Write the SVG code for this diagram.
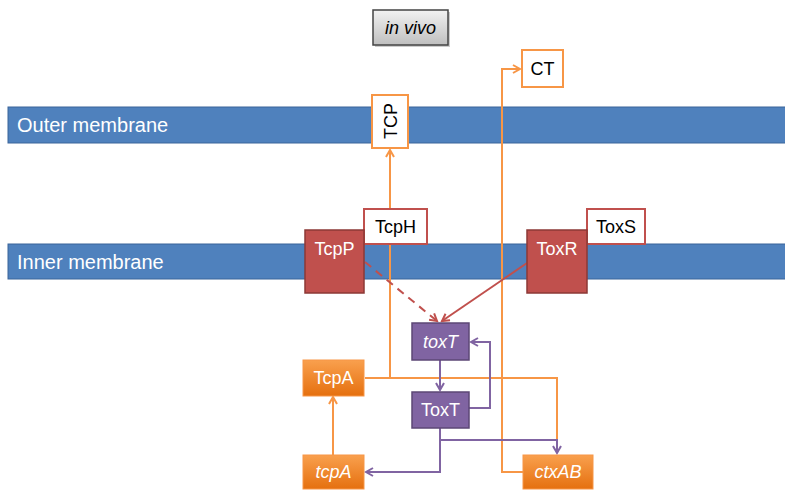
<svg xmlns="http://www.w3.org/2000/svg" width="785" height="490" viewBox="0 0 785 490">
<defs>
<linearGradient id="gray" x1="0" y1="0" x2="0" y2="1"><stop offset="0" stop-color="#f2f2f2"/><stop offset="1" stop-color="#bfbfbf"/></linearGradient>
<linearGradient id="orng" x1="0" y1="0" x2="0" y2="1"><stop offset="0" stop-color="#f9a04e"/><stop offset="1" stop-color="#e5700f"/></linearGradient>
<marker id="ao" markerWidth="10" markerHeight="10" refX="8" refY="5" orient="auto" markerUnits="userSpaceOnUse"><path d="M1,1 L8,5 L1,9" fill="none" stroke="#f79646" stroke-width="2"/></marker>
<marker id="ap" markerWidth="10" markerHeight="10" refX="8" refY="5" orient="auto" markerUnits="userSpaceOnUse"><path d="M1,1 L8,5 L1,9" fill="none" stroke="#8064a2" stroke-width="2"/></marker>
<marker id="ar" markerWidth="10" markerHeight="10" refX="8" refY="5" orient="auto" markerUnits="userSpaceOnUse"><path d="M1,1 L8,5 L1,9" fill="none" stroke="#c0504d" stroke-width="2"/></marker>
</defs>
<style>
text{font-family:"Liberation Sans",Arial,sans-serif;font-size:18px;text-anchor:middle;dominant-baseline:central}
.mem{fill:#4f81bd;stroke:#3a649a;stroke-width:1}
.memt{fill:#fff;font-size:20px;text-anchor:start}
.wo{fill:#fff;stroke:#f79646;stroke-width:2}
.wr{fill:#fff;stroke:#c0504d;stroke-width:2}
.red{fill:#c0504d;stroke:#8c3836;stroke-width:1.5}
.pur{fill:#8064a2;stroke:#5c4776;stroke-width:1.5}
.org{fill:url(#orng);stroke:#f79646;stroke-width:1}
.wt{fill:#fff}
.it{font-style:italic}
.lo{fill:none;stroke:#f79646;stroke-width:2}
.lp{fill:none;stroke:#8064a2;stroke-width:2}
.lr{fill:none;stroke:#c0504d;stroke-width:2}
</style>
<g id="membranes">
<rect class="mem" x="8" y="107" width="780" height="36"/>
<text class="memt" x="17" y="125">Outer membrane</text>
<rect class="mem" x="8" y="244" width="780" height="35"/>
<text class="memt" x="17" y="262">Inner membrane</text>
</g>
<g id="connectors">
<path class="lo" d="M365,378 H390 V150" marker-end="url(#ao)"/>
<path class="lo" d="M390,378 H557 V440"/>
<path class="lo" d="M523,472 H502 V69 H520" marker-end="url(#ao)"/>
<path class="lo" d="M333,455 V397" marker-end="url(#ao)"/>
<path class="lp" d="M440,360 V390" marker-end="url(#ap)"/>
<path class="lp" d="M469,408 H490 V342 H471" marker-end="url(#ap)"/>
<path class="lp" d="M440,428 V472 H366" marker-end="url(#ap)"/>
<path class="lp" d="M440,440 H557 V453" marker-end="url(#ap)"/>
<path class="lr" d="M365,262 L437,321" stroke-dasharray="8,6" marker-end="url(#ar)"/>
<path class="lr" d="M527,263 L442,321" marker-end="url(#ar)"/>
</g>
<g id="invivo">
<rect x="375" y="12" width="75" height="35" fill="#999" opacity="0.5"/>
<rect x="373" y="10" width="75" height="35" fill="url(#gray)" stroke="#444" stroke-width="1.5"/>
<text class="it" x="410.5" y="28">in vivo</text>
</g>
<g id="CT"><rect class="wo" x="522" y="50" width="41" height="37"/><text x="542.5" y="69">CT</text></g>
<g id="TCP"><rect class="wo" x="372" y="95" width="36" height="53"/><text transform="translate(391,121) rotate(-90)">TCP</text></g>
<g id="TcpH"><rect class="wr" x="364" y="209" width="63" height="35"/><text x="395.5" y="227">TcpH</text></g>
<g id="TcpP"><rect class="red" x="305" y="230" width="59" height="63"/><text class="wt" x="334.5" y="249">TcpP</text></g>
<g id="ToxS"><rect class="wr" x="587" y="209" width="58" height="35"/><text x="616" y="227">ToxS</text></g>
<g id="ToxR"><rect class="red" x="527" y="230" width="60" height="63"/><text class="wt" x="557" y="249">ToxR</text></g>
<g id="toxT"><rect class="pur" x="412" y="323" width="57" height="37"/><text class="wt it" x="440.5" y="342">toxT</text></g>
<g id="ToxT"><rect class="pur" x="412" y="392" width="57" height="36"/><text class="wt" x="440.5" y="410">ToxT</text></g>
<g id="TcpA"><rect class="org" x="303" y="360" width="61" height="36"/><text class="wt" x="333.5" y="378">TcpA</text></g>
<g id="tcpA"><rect class="org" x="303" y="455" width="61" height="34"/><text class="wt it" x="333.5" y="472">tcpA</text></g>
<g id="ctxAB"><rect class="org" x="523" y="455" width="70" height="34"/><text class="wt it" x="558" y="472">ctxAB</text></g>
</svg>
